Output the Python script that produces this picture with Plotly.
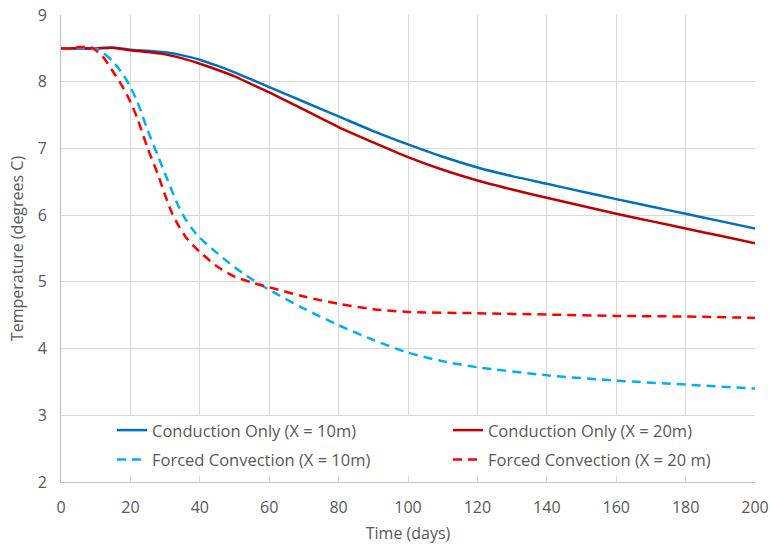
import plotly.graph_objects as go

# Time (days) and temperature (degrees C) for each case
cond10_x = [0, 10, 15, 20, 25, 30, 35, 40, 45, 50, 55, 60, 70, 80, 90, 100, 110, 120, 130, 140,
            150, 160, 170, 180, 190, 200]
cond10_y = [8.5, 8.5, 8.51, 8.48, 8.465, 8.44, 8.395, 8.33, 8.24, 8.14, 8.03, 7.92, 7.70, 7.48,
            7.26, 7.06, 6.875, 6.715, 6.585, 6.47, 6.355, 6.24, 6.13, 6.02, 5.91, 5.80]

cond20_x = [0, 10, 15, 20, 25, 30, 35, 40, 45, 50, 55, 60, 70, 80, 90, 100, 110, 120, 130, 140,
            150, 160, 170, 180, 190, 200]
cond20_y = [8.5, 8.5, 8.51, 8.47, 8.445, 8.41, 8.35, 8.27, 8.18, 8.08, 7.96, 7.84, 7.58, 7.32,
            7.09, 6.87, 6.68, 6.52, 6.385, 6.26, 6.14, 6.02, 5.91, 5.80, 5.69, 5.58]

forced10_x = [0, 5, 10, 12, 15, 18, 20, 22, 25, 28, 30, 32, 34, 36, 38, 40, 45, 50, 55, 60, 70,
              80, 90, 100, 110, 120, 140, 160, 180, 200]
forced10_y = [8.5, 8.5, 8.5, 8.44, 8.3, 8.1, 7.92, 7.7, 7.27, 6.88, 6.62, 6.36, 6.12, 5.93, 5.78,
              5.66, 5.43, 5.22, 5.04, 4.88, 4.6, 4.35, 4.13, 3.94, 3.81, 3.72, 3.60, 3.52, 3.46, 3.40]

forced20_x = [0, 3, 5, 7, 9, 10, 12, 15, 18, 20, 22, 25, 28, 30, 32, 34, 36, 38, 40, 45, 50, 55,
              60, 70, 80, 90, 100, 120, 140, 160, 180, 200]
forced20_y = [8.5, 8.5, 8.52, 8.52, 8.51, 8.47, 8.38, 8.15, 7.9, 7.7, 7.45, 7.0, 6.6, 6.3, 6.03,
              5.83, 5.67, 5.55, 5.45, 5.23, 5.08, 4.99, 4.92, 4.78, 4.67, 4.59, 4.55, 4.53, 4.51,
              4.49, 4.48, 4.46]

x_ticks = [0, 20, 40, 60, 80, 100, 120, 140, 160, 180, 200]
y_ticks = [2, 3, 4, 5, 6, 7, 8, 9]

FONT = "Open Sans"
TXT = "#595959"
GRID = "#D9D9D9"
DASH = "9px,6px"

# (name, x, y, colour, dash, legend)
series = [
    ("Conduction Only (X = 10m)", cond10_x, cond10_y, "#0070C0", "solid", "legend"),
    ("Conduction Only (X = 20m)", cond20_x, cond20_y, "#C00000", "solid", "legend2"),
    ("Forced Convection (X = 10m)", forced10_x, forced10_y, "#00B0F0", DASH, "legend"),
    ("Forced Convection (X = 20 m)", forced20_x, forced20_y, "#FF0000", DASH, "legend2"),
]

fig = go.Figure()
for name, xs, ys, color, dash, leg in series:
    fig.add_trace(go.Scatter(
        x=xs, y=ys, name=name, mode="lines", legend=leg, legendgroup=name,
        line=dict(color=color, width=2.5, dash=dash, shape="spline", smoothing=0.8),
    ))

# white band behind the legend so grid lines do not run through it
fig.add_shape(type="rect", xref="x", yref="y", x0=0.6, x1=199.4, y0=2.09, y1=2.985,
              fillcolor="white", line=dict(width=0), layer="above")

legend_common = dict(
    orientation="v", yanchor="top", xanchor="left", y=0.148,
    bgcolor="rgba(0,0,0,0)", font=dict(family=FONT, size=16.5, color=TXT),
    tracegroupgap=5, itemwidth=30, traceorder="grouped",
)

fig.update_layout(
    width=770, height=544,
    margin=dict(l=61, r=15, t=15, b=62),
    paper_bgcolor="white", plot_bgcolor="white",
    font=dict(family=FONT, size=16, color=TXT),
    showlegend=True,
    legend=dict(x=0.0735, **legend_common),
    legend2=dict(x=0.5576, **legend_common),
)

fig.update_xaxes(
    range=[0, 200], tickvals=x_ticks, showgrid=True, gridcolor=GRID, gridwidth=1,
    showline=True, linecolor="#BFBFBF", linewidth=1, zeroline=False, ticks="",
    automargin=False, ticklabelstandoff=11,
    tickfont=dict(family=FONT, size=16, color=TXT),
    title=dict(text="Time (days)", font=dict(family=FONT, size=16, color=TXT), standoff=15),
)
fig.update_yaxes(
    range=[2, 9], tickvals=y_ticks, showgrid=True, gridcolor=GRID, gridwidth=1,
    showline=True, linecolor="#BFBFBF", linewidth=1, zeroline=False, ticks="",
    automargin=False, ticklabelstandoff=10,
    tickfont=dict(family=FONT, size=16, color=TXT),
    title=dict(text="Temperature (degrees C)", font=dict(family=FONT, size=16, color=TXT), standoff=10),
)

fig.write_html("out.html")
